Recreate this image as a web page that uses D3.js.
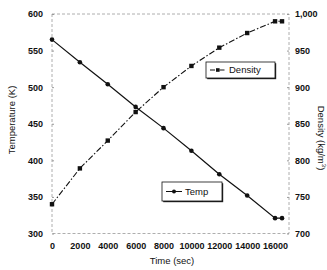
<!DOCTYPE html>
<html>
<head>
<meta charset="utf-8">
<script src="https://cdn.jsdelivr.net/npm/d3@7"></script>
<style>
  body { margin: 0; background: #fff; }
  text { font-family: "Liberation Sans", Arial, sans-serif; fill: #111; }
</style>
</head>
<body>
<div id="chart-area"></div>
<script>
// data
let times = [0, 2000, 4000, 6000, 8000, 10000, 12000, 14000, 16000, 16500];
let temp = [565, 534, 504, 473, 444, 413, 381, 352, 321, 321];
let density = [740, 789, 827, 866, 900, 929, 954, 974, 990, 990];
let xTicks = [0, 2000, 4000, 6000, 8000, 10000, 12000, 14000, 16000];
let tempTicks = [300, 350, 400, 450, 500, 550, 600];
let densTicks = [700, 750, 800, 850, 900, 950, 1000];

let svg = d3.select("#chart-area").append("svg")
	.attr("width", 327)
	.attr("height", 270);

svg.append("rect").attr("width", 327).attr("height", 270).attr("fill", "#fff");

let x = d3.scaleLinear().domain([0, 17000]).range([52, 289]);
let yT = d3.scaleLinear().domain([300, 600]).range([233.5, 14]);
let yD = d3.scaleLinear().domain([700, 1000]).range([233.5, 14]);

// frame (light dashed box like the scan)
svg.append("rect")
	.attr("x", 52).attr("y", 14)
	.attr("width", 237).attr("height", 219.5)
	.attr("fill", "none")
	.attr("stroke", "#999")
	.attr("stroke-width", 0.8)
	.attr("stroke-dasharray", "3,2");

// axes
let gx = svg.append("g").attr("transform", "translate(0,233.5)")
	.call(d3.axisBottom(x).tickValues(xTicks).tickSize(0).tickPadding(9).tickFormat(d3.format("d")));
let gl = svg.append("g").attr("transform", "translate(52,0)")
	.call(d3.axisLeft(yT).tickValues(tempTicks).tickSize(-2).tickPadding(9));
let gr = svg.append("g").attr("transform", "translate(289,0)")
	.call(d3.axisRight(yD).tickValues(densTicks).tickSize(-2).tickPadding(6));

[gx, gl, gr].forEach((g) => {
	g.select(".domain").remove();
	g.selectAll(".tick line").attr("stroke", "#999");
	g.selectAll("text")
		.style("font-family", "'Liberation Sans', Arial, sans-serif")
		.style("font-size", "9px")
		.style("font-weight", "bold")
		.attr("fill", "#111");
});

// axis titles
svg.append("text")
	.attr("x", 172).attr("y", 264)
	.attr("text-anchor", "middle")
	.style("font-size", "9.5px")
	.text("Time (sec)");

svg.append("text")
	.attr("transform", "translate(15,120) rotate(-90)")
	.attr("text-anchor", "middle")
	.style("font-size", "9.5px")
	.text("Temperature (K)");

svg.append("text")
	.attr("transform", "translate(318,138) rotate(90)")
	.attr("text-anchor", "middle")
	.style("font-size", "9.5px")
	.html("Density (kg/m<tspan dy='-4' font-size='6px'>3</tspan><tspan dy='4'>)</tspan>");

// lines
let tempLine = d3.line().x((d, i) => x(times[i])).y((d) => yT(d));
let densLine = d3.line().x((d, i) => x(times[i])).y((d) => yD(d));

svg.append("path")
	.attr("d", densLine(density))
	.attr("fill", "none")
	.attr("stroke", "#111")
	.attr("stroke-width", 1.1)
	.attr("stroke-dasharray", "6,2,1.5,2");

svg.append("path")
	.attr("d", tempLine(temp))
	.attr("fill", "none")
	.attr("stroke", "#111")
	.attr("stroke-width", 1.2);

svg.selectAll(".dmark").data(density).enter()
	.append("rect")
	.attr("class", "dmark")
	.attr("x", (d, i) => x(times[i]) - 2.2)
	.attr("y", (d) => yD(d) - 2.2)
	.attr("width", 4.4).attr("height", 4.4)
	.attr("fill", "#111");

svg.selectAll(".tmark").data(temp).enter()
	.append("circle")
	.attr("class", "tmark")
	.attr("cx", (d, i) => x(times[i]))
	.attr("cy", (d) => yT(d))
	.attr("r", 2.3)
	.attr("fill", "#111");

// legends
function legend(lx, ly, w, h, label, dashed, square) {
	let g = svg.append("g").attr("transform", "translate(" + lx + "," + ly + ")");
	g.append("rect").attr("x", 1.2).attr("y", 1.2).attr("width", w).attr("height", h).attr("fill", "#222");
	g.append("rect").attr("width", w).attr("height", h).attr("fill", "#fff").attr("stroke", "#111").attr("stroke-width", 0.8);
	g.append("line")
		.attr("x1", 4).attr("x2", 20).attr("y1", h / 2).attr("y2", h / 2)
		.attr("stroke", "#111").attr("stroke-width", 1)
		.attr("stroke-dasharray", dashed ? "5,1.5,1.5,1.5" : null);
	if (square) {
		g.append("rect").attr("x", 10).attr("y", h / 2 - 1.8).attr("width", 3.6).attr("height", 3.6).attr("fill", "#111");
	} else {
		g.append("circle").attr("cx", 12).attr("cy", h / 2).attr("r", 2).attr("fill", "#111");
	}
	g.append("text")
		.attr("x", 23).attr("y", h / 2 + 3.3)
		.style("font-size", "9.5px")
		.text(label);
}
legend(206, 62, 69, 16, "Density", true, true);
legend(162, 182, 60, 19, "Temp", false, false);
</script>
</body>
</html>
